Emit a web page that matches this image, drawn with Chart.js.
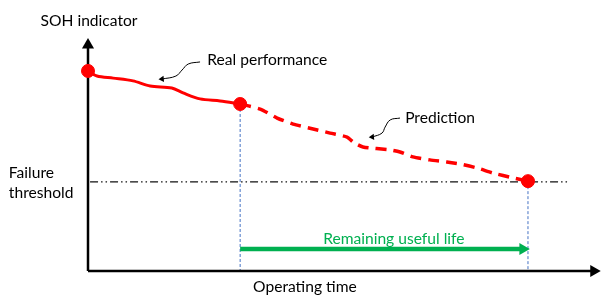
<!DOCTYPE html>
<html>
<head>
<meta charset="utf-8">
<script src="https://cdn.jsdelivr.net/npm/chart.js@4"></script>
<style>
html,body{margin:0;padding:0;background:#fff;}
#wrap{width:602px;height:295px;}
</style>
</head>
<body>
<div id="wrap"><canvas id="c" width="602" height="295"></canvas></div>
<script>
// Operating time (t) and SOH indicator (s) values, in chart units
const realT = [0, 1.75, 4.9, 8.75, 12.1, 16.3, 18.5, 21.8, 25.7, 29.6];
const realS = [86.6, 84.4, 83.5, 82.3, 80.1, 79.2, 77.1, 74.5, 73.6, 72.3];
const predT = [29.6, 33.5, 36.8, 39.9, 43.8, 47.1, 50.4, 51.6, 53.5, 58.8, 60.7, 63.2, 66.5, 69.8, 72.4, 75.7, 78.8, 82.7, 85.6];
const predS = [72.3, 70.1, 66.2, 63.6, 61.5, 59.7, 58.0, 55.8, 53.7, 52.4, 51.5, 49.4, 48.1, 47.2, 46.3, 44.6, 42.4, 40.3, 38.9];
const keyT = [0, 29.6, 85.6];
const keyS = [86.6, 72.3, 38.9];
const threshold = 38.6;
const thresholdT = [0.4, 93.4];
const rulT = [29.6, 84.6];
const rulS = 9.5;
const axisTipT = 98.4;
const axisTipS = 97.8;
const arrowRealT = [21.8, 19.5, 18.3, 17.1, 14.4];
const arrowRealS = [90.5, 89.6, 87.0, 84.4, 83.1];
const arrowPredT = [60.7, 58.8, 57.8, 57.2, 55.3];
const arrowPredS = [66.2, 65.4, 62.3, 59.7, 58.0];
const labels = [
  {text: 'SOH indicator', t: 0.2, s: 108.2, align: 'center', color: '#000'},
  {text: 'Real performance', t: 23.2, s: 91.3, align: 'left', color: '#000'},
  {text: 'Prediction', t: 61.7, s: 66.2, align: 'left', color: '#000'},
  {text: 'Failure', t: -15.4, s: 42.4, align: 'left', color: '#000'},
  {text: 'threshold', t: -15.4, s: 33.8, align: 'left', color: '#000'},
  {text: 'Operating time', t: 42.2, s: -6.9, align: 'center', color: '#000'},
  {text: 'Remaining useful life', t: 59.5, s: 13.9, align: 'center', color: '#00B050'}
];

const zip = (xs, ys) => xs.map((x, i) => ({x, y: Array.isArray(ys) ? ys[i] : ys}));
const RED = '#FF0000', BLUE = '#4472C4', GREEN = '#00B050';

const textPlugin = {
  id: 'texts',
  afterDraw(chart) {
    const ctx = chart.ctx, xs = chart.scales.x, ys = chart.scales.y;
    ctx.save();
    ctx.font = '15.6px Lato, "Open Sans", sans-serif';
    ctx.textBaseline = 'middle';
    labels.forEach(l => {
      ctx.fillStyle = l.color;
      ctx.textAlign = l.align;
      ctx.fillText(l.text, xs.getPixelForValue(l.t), ys.getPixelForValue(l.s));
    });
    ctx.restore();
  }
};

const lineDs = (data, extra) => Object.assign({
  data, showLine: true, fill: false, pointRadius: 0, clip: false, borderCapStyle: 'butt'
}, extra);

new Chart(document.getElementById('c'), {
  type: 'scatter',
  data: {
    datasets: [
      lineDs(zip(keyT, keyS), {showLine: false, pointRadius: 6.5, pointBackgroundColor: RED, pointBorderColor: RED, borderColor: RED}),
      lineDs(zip(realT, realS), {borderColor: RED, borderWidth: 3, tension: 0.3}),
      lineDs(zip(predT, predS), {borderColor: RED, borderWidth: 3.5, borderDash: [11, 7], tension: 0.2}),
      lineDs([{x: 0, y: 0}, {x: 0, y: axisTipS}], {borderColor: '#000', borderWidth: 2.5, pointRadius: [0, 7], pointStyle: 'triangle', pointRotation: 0, pointBackgroundColor: '#000', pointBorderColor: '#000', pointBorderWidth: 0}),
      lineDs([{x: 0, y: 0}, {x: axisTipT, y: 0}], {borderColor: '#000', borderWidth: 2.5, pointRadius: [0, 7], pointStyle: 'triangle', pointRotation: 90, pointBackgroundColor: '#000', pointBorderColor: '#000', pointBorderWidth: 0}),
      lineDs(zip(rulT, rulS), {borderColor: GREEN, borderWidth: 4.5, pointRadius: [0, 7], pointStyle: 'triangle', pointRotation: 90, pointBackgroundColor: GREEN, pointBorderColor: GREEN, pointBorderWidth: 0}),
      lineDs(zip(thresholdT, threshold), {borderColor: '#111', borderWidth: 1.3, borderDash: [8, 3, 1.5, 3, 1.5, 3]}),
      lineDs([{x: keyT[1], y: keyS[1]}, {x: keyT[1], y: 0}], {borderColor: BLUE, borderWidth: 1, borderDash: [3, 2]}),
      lineDs([{x: keyT[2], y: keyS[2]}, {x: keyT[2], y: 0}], {borderColor: BLUE, borderWidth: 1, borderDash: [3, 2]}),
      lineDs(zip(arrowRealT, arrowRealS), {borderColor: '#000', borderWidth: 1, tension: 0.4, pointRadius: [0,0,0,0,3.5], pointStyle: 'triangle', pointRotation: 265, pointBackgroundColor: '#000', pointBorderColor: '#000', pointBorderWidth: 0}),
      lineDs(zip(arrowPredT, arrowPredS), {borderColor: '#000', borderWidth: 1, tension: 0.4, pointRadius: [0,0,0,0,3.5], pointStyle: 'triangle', pointRotation: 265, pointBackgroundColor: '#000', pointBorderColor: '#000', pointBorderWidth: 0})
    ]
  },
  options: {
    responsive: false,
    animation: false,
    layout: {autoPadding: false, padding: {left: 88, right: 0, top: 40, bottom: 24}},
    plugins: {legend: {display: false}, tooltip: {enabled: false}},
    scales: {
      x: {type: 'linear', min: 0, max: 100, display: false},
      y: {type: 'linear', min: 0, max: 100, display: false}
    }
  },
  plugins: [textPlugin]
});
</script>
</body>
</html>
